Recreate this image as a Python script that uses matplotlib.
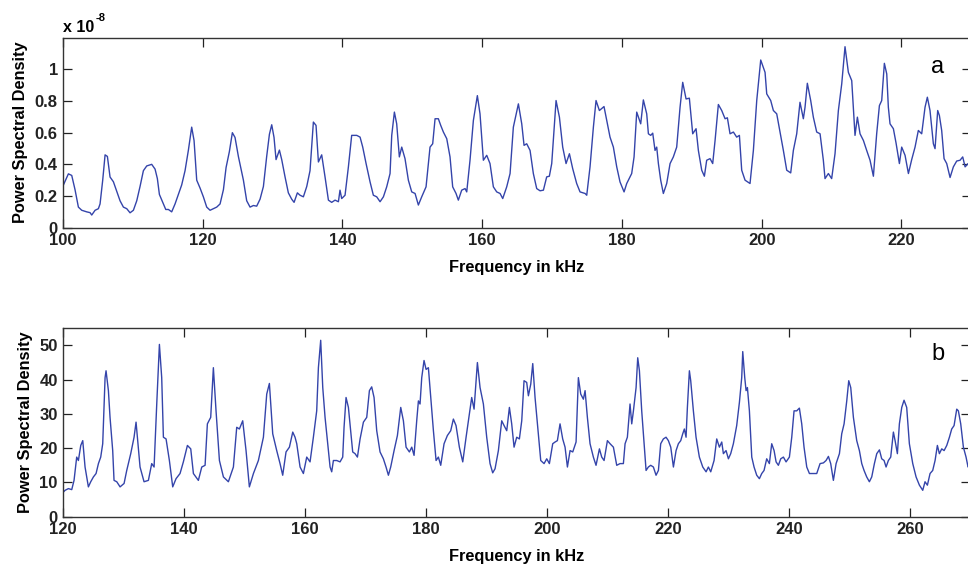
import matplotlib
matplotlib.use("Agg")
import matplotlib.pyplot as plt

plt.rcParams['font.family'] = ['Liberation Sans', 'DejaVu Sans']
plt.rcParams['font.weight'] = 'bold'
plt.rcParams['axes.labelweight'] = 'bold'

# panel a: PSD in units of 1e-8
freq_a = [100.00, 100.81, 101.29, 101.76, 102.24, 102.72, 103.43, 103.91, 104.15, 104.63,
          105.10, 105.34, 105.72, 106.06, 106.39, 106.77, 107.25, 107.73, 108.20, 108.68,
          109.16, 109.63, 110.11, 110.59, 111.06, 111.54, 112.02, 112.73, 113.21, 113.54,
          113.83, 114.40, 114.74, 115.12, 115.59, 116.07, 116.55, 117.02, 117.50, 117.98,
          118.45, 118.79, 119.17, 119.65, 120.12, 120.60, 121.08, 121.55, 122.03, 122.51,
          122.99, 123.37, 123.84, 124.27, 124.65, 125.13, 125.47, 125.85, 126.32, 126.80,
          127.28, 127.75, 128.23, 128.71, 129.18, 129.57, 129.90, 130.23, 130.52, 131.00,
          131.33, 131.81, 132.28, 132.76, 133.10, 133.57, 133.95, 134.43, 134.91, 135.38,
          135.62, 135.86, 136.24, 136.58, 137.05, 137.53, 138.01, 138.48, 138.96, 139.44,
          139.67, 139.91, 140.39, 140.87, 141.34, 142.06, 142.54, 142.92, 143.40, 143.97,
          144.44, 144.92, 145.40, 145.88, 146.35, 146.83, 147.07, 147.45, 147.78, 148.16,
          148.50, 148.97, 149.45, 149.93, 150.41, 150.88, 151.36, 151.98, 152.55, 152.93,
          153.27, 153.74, 154.08, 154.46, 154.94, 155.41, 155.79, 156.27, 156.60, 157.08,
          157.56, 157.80, 158.27, 158.75, 159.32, 159.70, 160.18, 160.66, 161.13, 161.61,
          162.09, 162.57, 162.95, 163.52, 164.00, 164.47, 165.19, 165.67, 166.00, 166.38,
          166.86, 167.33, 167.81, 168.29, 168.77, 169.24, 169.62, 169.96, 170.58, 171.06,
          171.53, 172.01, 172.49, 172.96, 173.53, 174.01, 174.73, 174.97, 175.44, 175.92,
          176.30, 176.78, 177.44, 177.83, 178.30, 178.78, 179.26, 179.73, 180.31, 180.69,
          181.40, 181.74, 182.12, 182.69, 183.07, 183.55, 183.79, 184.12, 184.41, 184.74,
          184.98, 185.22, 185.55, 185.93, 186.41, 186.89, 187.36, 187.84, 188.32, 188.70,
          189.18, 189.65, 190.13, 190.61, 190.94, 191.42, 191.80, 192.13, 192.61, 192.99,
          193.33, 193.80, 194.28, 194.76, 195.09, 195.47, 195.95, 196.42, 196.81, 197.14,
          197.62, 198.33, 198.81, 199.29, 199.86, 200.48, 200.72, 201.29, 201.67, 202.15,
          202.62, 203.10, 203.58, 204.15, 204.53, 205.01, 205.48, 205.96, 206.20, 206.53,
          207.01, 207.39, 207.87, 208.35, 208.82, 209.06, 209.54, 210.01, 210.49, 210.97,
          211.45, 211.92, 212.40, 212.88, 213.35, 213.69, 214.07, 214.55, 215.02, 215.50,
          215.98, 216.45, 216.84, 217.17, 217.55, 217.89, 218.12, 218.36, 218.84, 219.22,
          219.70, 220.03, 220.51, 220.99, 221.46, 221.94, 222.41, 222.89, 223.37, 223.70,
          224.08, 224.56, 224.80, 225.18, 225.42, 225.75, 226.09, 226.47, 226.95, 227.42,
          227.90, 228.38, 228.76, 229.10, 229.53, 230.00]
psd_a = [0.26, 0.34, 0.33, 0.24, 0.13, 0.11, 0.10, 0.095, 0.08, 0.11,
         0.12, 0.15, 0.30, 0.46, 0.45, 0.32, 0.29, 0.23, 0.17, 0.13,
         0.12, 0.094, 0.11, 0.17, 0.26, 0.36, 0.39, 0.40, 0.37, 0.31,
         0.21, 0.15, 0.115, 0.115, 0.10, 0.15, 0.21, 0.27, 0.36, 0.49,
         0.635, 0.55, 0.30, 0.25, 0.195, 0.13, 0.11, 0.12, 0.13, 0.15,
         0.24, 0.38, 0.48, 0.60, 0.57, 0.45, 0.38, 0.30, 0.17, 0.13,
         0.14, 0.136, 0.18, 0.26, 0.45, 0.59, 0.65, 0.57, 0.43, 0.49,
         0.43, 0.32, 0.22, 0.18, 0.16, 0.22, 0.205, 0.195, 0.26, 0.36,
         0.51, 0.667, 0.646, 0.415, 0.46, 0.32, 0.174, 0.16, 0.174, 0.164,
         0.237, 0.184, 0.205, 0.384, 0.583, 0.583, 0.572, 0.509, 0.405, 0.289,
         0.205, 0.195, 0.164, 0.195, 0.258, 0.342, 0.583, 0.730, 0.656, 0.447,
         0.509, 0.436, 0.300, 0.226, 0.216, 0.143, 0.195, 0.258, 0.509, 0.530,
         0.688, 0.688, 0.646, 0.604, 0.562, 0.447, 0.258, 0.216, 0.174, 0.237,
         0.247, 0.226, 0.426, 0.677, 0.834, 0.719, 0.426, 0.457, 0.405, 0.258,
         0.226, 0.216, 0.184, 0.258, 0.342, 0.635, 0.782, 0.656, 0.520, 0.530,
         0.488, 0.342, 0.247, 0.233, 0.237, 0.321, 0.325, 0.405, 0.803, 0.698,
         0.509, 0.405, 0.467, 0.373, 0.279, 0.226, 0.216, 0.205, 0.384, 0.635,
         0.803, 0.740, 0.765, 0.677, 0.572, 0.509, 0.384, 0.289, 0.226, 0.279,
         0.342, 0.447, 0.730, 0.656, 0.807, 0.719, 0.593, 0.583, 0.597, 0.488,
         0.509, 0.405, 0.300, 0.216, 0.279, 0.405, 0.447, 0.509, 0.761, 0.918,
         0.813, 0.818, 0.593, 0.625, 0.488, 0.363, 0.325, 0.426, 0.436, 0.405,
         0.551, 0.778, 0.740, 0.688, 0.694, 0.593, 0.604, 0.572, 0.583, 0.363,
         0.300, 0.279, 0.488, 0.803, 1.059, 0.981, 0.845, 0.803, 0.740, 0.719,
         0.604, 0.488, 0.363, 0.346, 0.488, 0.593, 0.792, 0.688, 0.761, 0.912,
         0.803, 0.698, 0.604, 0.593, 0.426, 0.310, 0.342, 0.310, 0.467, 0.740,
         0.908, 1.143, 0.981, 0.929, 0.583, 0.698, 0.593, 0.551, 0.488, 0.426,
         0.325, 0.593, 0.771, 0.803, 1.038, 0.971, 0.761, 0.656, 0.625, 0.535,
         0.405, 0.509, 0.457, 0.342, 0.430, 0.509, 0.614, 0.593, 0.761, 0.824,
         0.740, 0.530, 0.499, 0.740, 0.709, 0.614, 0.436, 0.405, 0.317, 0.384,
         0.421, 0.426, 0.447, 0.384, 0.405, 0.40]

# panel b
freq_b = [120.00, 120.39, 120.94, 121.49, 121.87, 122.31, 122.59, 122.98, 123.31, 123.69,
          124.24, 124.63, 125.07, 125.51, 125.90, 126.28, 126.61, 127.00, 127.16, 127.55,
          127.82, 128.26, 128.48, 128.93, 129.48, 130.14, 130.58, 131.24, 131.79, 132.12,
          132.34, 132.78, 133.44, 134.16, 134.71, 135.10, 135.54, 135.98, 136.36, 136.64,
          137.08, 137.63, 138.18, 138.73, 139.39, 139.94, 140.61, 141.16, 141.60, 142.42,
          142.98, 143.53, 143.91, 144.46, 144.90, 145.34, 145.90, 146.56, 147.38, 148.21,
          148.76, 149.20, 149.75, 150.30, 150.85, 151.52, 152.34, 153.17, 153.72, 154.16,
          154.71, 155.37, 155.92, 156.36, 156.91, 157.47, 158.02, 158.40, 158.68, 159.23,
          159.78, 160.33, 160.88, 161.43, 161.98, 162.26, 162.64, 162.98, 163.36, 163.91,
          164.19, 164.46, 164.74, 165.29, 165.84, 166.28, 166.50, 166.83, 167.22, 167.60,
          167.93, 168.32, 168.71, 169.15, 169.70, 170.25, 170.69, 171.07, 171.46, 171.90,
          172.45, 173.00, 173.44, 173.83, 174.21, 174.77, 175.32, 175.87, 176.31, 176.75,
          177.30, 177.69, 178.07, 178.51, 178.79, 179.06, 179.34, 179.72, 180.06, 180.44,
          180.83, 181.27, 181.71, 182.09, 182.48, 183.03, 183.58, 184.13, 184.57, 185.01,
          185.56, 186.12, 186.67, 187.22, 187.60, 187.99, 188.54, 188.98, 189.53, 190.08,
          190.63, 191.07, 191.46, 192.01, 192.56, 192.95, 193.39, 193.83, 194.21, 194.60,
          195.04, 195.48, 195.87, 196.25, 196.69, 196.97, 197.36, 197.69, 198.07, 198.62,
          199.01, 199.56, 200.00, 200.44, 200.99, 201.38, 201.76, 202.20, 202.64, 203.03,
          203.42, 203.86, 204.30, 204.85, 205.23, 205.62, 206.06, 206.34, 206.72, 207.16,
          207.71, 208.15, 208.71, 209.09, 209.48, 210.03, 210.47, 211.02, 211.57, 212.12,
          212.67, 212.95, 213.33, 213.77, 214.05, 214.33, 214.77, 215.04, 215.32, 215.70,
          216.09, 216.42, 216.80, 217.19, 217.63, 218.07, 218.46, 218.84, 219.28, 219.72,
          220.11, 220.50, 220.94, 221.38, 221.76, 222.15, 222.48, 222.75, 223.03, 223.25,
          223.58, 223.80, 224.24, 224.68, 225.23, 225.79, 226.34, 226.72, 227.11, 227.66,
          228.10, 228.54, 228.93, 229.20, 229.64, 230.03, 230.41, 230.85, 231.40, 231.85,
          232.23, 232.40, 232.73, 232.95, 233.17, 233.50, 233.89, 234.27, 234.71, 235.15,
          235.54, 235.92, 236.36, 236.80, 237.19, 237.58, 237.91, 238.29, 238.68, 239.12,
          239.56, 240.11, 240.50, 240.88, 241.32, 241.76, 242.15, 242.53, 242.98, 243.42,
          244.08, 244.63, 245.18, 245.73, 246.17, 246.56, 246.94, 247.38, 247.83, 248.38,
          248.76, 249.15, 249.59, 249.92, 250.25, 250.69, 251.24, 251.68, 252.07, 252.45,
          252.89, 253.33, 253.72, 254.16, 254.55, 254.99, 255.37, 255.76, 256.09, 256.47,
          256.86, 257.30, 257.58, 257.96, 258.29, 258.68, 259.06, 259.50, 259.94, 260.50,
          261.05, 261.60, 262.15, 262.53, 262.92, 263.36, 263.80, 264.19, 264.57, 264.90,
          265.29, 265.68, 266.12, 266.56, 266.94, 267.33, 267.77, 268.04, 268.43, 268.87,
          269.31, 269.64, 270.00]
psd_b = [7.0, 7.7, 8.2, 7.9, 10.6, 17.4, 16.4, 20.8, 22.2, 14.5,
         8.7, 10.2, 11.6, 12.6, 15.5, 17.4, 21.3, 40.6, 42.6, 36.8,
         29.0, 19.3, 10.6, 10.2, 8.7, 9.7, 13.5, 18.4, 23.2, 27.6,
         23.2, 14.5, 10.2, 10.6, 15.5, 14.5, 32.9, 50.3, 40.6, 23.2,
         22.7, 16.4, 8.7, 11.1, 12.6, 16.0, 20.8, 19.8, 12.6, 10.6,
         14.5, 15.0, 27.1, 29.0, 43.5, 30.9, 16.4, 11.6, 10.2, 14.5,
         26.1, 25.6, 28.0, 19.3, 8.7, 12.6, 16.4, 23.2, 35.8, 38.9,
         24.2, 19.3, 15.5, 12.1, 18.9, 20.3, 24.7, 23.2, 21.3, 14.5,
         12.6, 17.4, 16.0, 23.2, 30.9, 43.5, 51.5, 37.7, 29.0, 19.3,
         14.5, 13.1, 16.4, 16.4, 16.0, 17.4, 26.1, 34.8, 31.9, 25.1,
         18.9, 18.4, 17.4, 22.7, 27.6, 29.0, 36.8, 37.9, 34.8, 25.1,
         18.9, 16.9, 14.5, 12.1, 14.5, 19.3, 23.7, 31.9, 28.0, 20.3,
         18.9, 20.3, 17.9, 28.0, 33.8, 32.9, 40.6, 45.6, 43.0, 43.5,
         34.8, 25.1, 16.4, 17.4, 15.0, 21.3, 23.7, 25.1, 28.5, 26.6,
         20.3, 16.0, 23.2, 30.0, 34.8, 31.4, 45.0, 37.7, 32.9, 23.2,
         15.5, 12.8, 14.0, 19.3, 28.0, 26.6, 25.1, 31.9, 27.1, 20.3,
         23.2, 22.7, 28.0, 39.7, 39.2, 35.3, 38.7, 44.7, 34.8, 24.2,
         16.4, 15.5, 16.9, 15.5, 21.3, 21.8, 22.2, 27.1, 22.7, 20.3,
         14.5, 19.3, 18.9, 21.8, 40.6, 35.8, 34.3, 36.8, 29.0, 21.3,
         17.4, 15.0, 19.8, 17.4, 16.4, 22.2, 21.3, 20.3, 15.0, 15.5,
         15.5, 21.3, 23.2, 32.9, 27.1, 30.9, 37.7, 46.4, 42.6, 30.9,
         21.3, 13.5, 14.5, 15.0, 14.5, 12.1, 13.5, 21.3, 22.7, 23.2,
         22.2, 20.3, 14.5, 19.3, 21.3, 22.2, 24.2, 25.6, 23.2, 31.9,
         42.6, 39.7, 30.9, 23.2, 17.4, 14.5, 13.1, 14.5, 13.1, 16.4,
         22.7, 20.3, 21.8, 18.4, 19.3, 16.9, 18.4, 21.3, 26.6, 33.4,
         40.6, 48.2, 40.6, 36.8, 37.7, 30.9, 17.4, 14.5, 12.1, 11.1,
         12.6, 13.5, 16.9, 15.5, 21.3, 19.3, 16.0, 15.0, 16.9, 17.4,
         16.0, 17.4, 23.2, 30.9, 30.9, 31.7, 27.1, 20.3, 14.5, 12.6,
         12.6, 12.6, 15.5, 15.7, 16.4, 17.6, 15.5, 10.6, 15.5, 18.4,
         24.2, 27.1, 33.8, 39.7, 37.7, 29.0, 22.2, 19.3, 15.5, 13.5,
         11.6, 10.2, 11.6, 15.5, 18.4, 19.5, 16.9, 16.4, 14.5, 16.4,
         17.4, 24.7, 22.2, 18.4, 27.1, 31.9, 34.0, 31.9, 21.3, 15.5,
         11.6, 9.2, 7.7, 10.2, 9.2, 12.6, 13.5, 16.4, 20.8, 18.4,
         19.8, 19.3, 20.8, 23.2, 25.6, 26.6, 31.4, 30.9, 27.1, 20.3,
         17.4, 14.5, 15.0]

xticks_a = [100, 120, 140, 160, 180, 200, 220]
yticks_a = [0, 0.2, 0.4, 0.6, 0.8, 1]
yticklabels_a = ['0', '0.2', '0.4', '0.6', '0.8', '1']
xticks_b = [120, 140, 160, 180, 200, 220, 240, 260]
yticks_b = [0, 10, 20, 30, 40, 50]

line_color = '#3444aa'
fig = plt.figure(figsize=(9.68, 5.64), dpi=100)
ax1 = fig.add_axes([0.0648, 0.5963, 0.9387, 0.3369])
ax2 = fig.add_axes([0.0648, 0.0839, 0.9375, 0.3340])

ax1.plot(freq_a, psd_a, color=line_color, lw=1.0)
ax1.set_xlim(100, 230)
ax1.set_ylim(0, 1.2)
ax1.set_xticks(xticks_a)
ax1.set_yticks(yticks_a)
ax1.set_yticklabels(yticklabels_a)
ax1.text(225.1, 1.017, 'a', fontsize=17, fontweight='normal', ha='center', va='center')
ax1.annotate('x 10', xy=(0, 1), xycoords='axes fraction', xytext=(0, 4.3),
             textcoords='offset points', ha='left', va='baseline', fontsize=11.5)
ax1.annotate('-8', xy=(0, 1), xycoords='axes fraction', xytext=(23.5, 12),
             textcoords='offset points', ha='left', va='baseline', fontsize=8)

ax2.plot(freq_b, psd_b, color=line_color, lw=1.0)
ax2.set_xlim(120, 270)
ax2.set_ylim(0, 55)
ax2.set_xticks(xticks_b)
ax2.set_yticks(yticks_b)
ax2.text(264.7, 47.5, 'b', fontsize=17, fontweight='normal', ha='center', va='center')

for ax in (ax1, ax2):
    ax.set_xlabel('Frequency in kHz', fontsize=11.8, labelpad=9)
    ax.set_ylabel('Power Spectral Density', fontsize=11.8, labelpad=5)
    ax.tick_params(direction='in', length=6.5, width=0.9, top=True, right=True,
                   labelsize=12, pad=3.5, colors='#222222')
    for s in ax.spines.values():
        s.set_linewidth(1.0)
        s.set_color('#333333')

fig.savefig('out.png', dpi=100)
